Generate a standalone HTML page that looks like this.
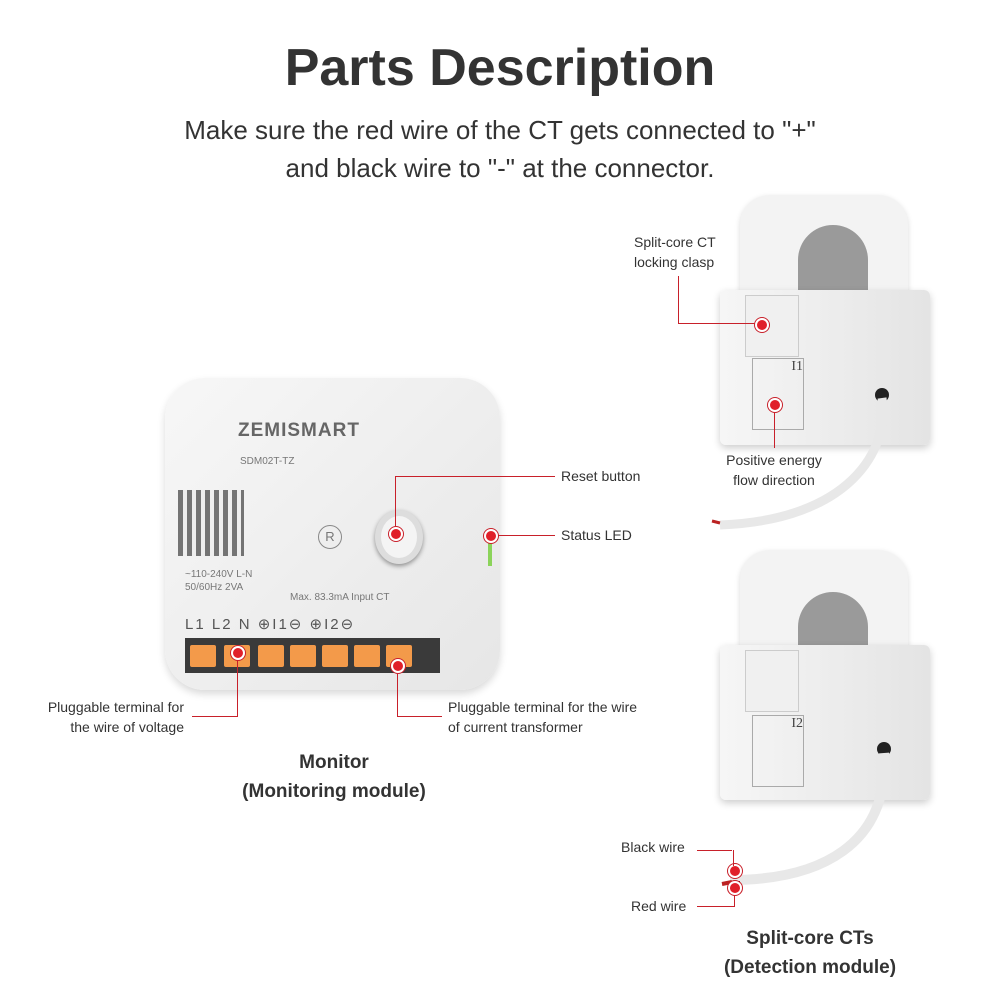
<!DOCTYPE html>
<html><head><meta charset="utf-8"><style>
body{margin:0;width:1000px;height:1000px;background:#fff;position:relative;overflow:hidden;font-family:"Liberation Sans",sans-serif;color:#333}
.a{position:absolute}
.t{font-size:14px;color:#333;line-height:20px}
.ln{position:absolute;background:#c8202a}
.dot{position:absolute;width:10px;height:10px;border-radius:50%;background:#e0202a;border:2px solid #fff;box-shadow:0 0 0 1px #c8202a}
.term{position:absolute;width:26px;height:22px;background:#f39a4a;border-radius:2px}
</style></head><body>
<div class="a" style="left:0;width:1000px;top:38px;text-align:center;font-size:52px;font-weight:bold;color:#333">Parts Description</div>
<div class="a" style="left:0;width:1000px;top:111px;text-align:center;font-size:26px;line-height:38px;color:#333">Make sure the red wire of the CT gets connected to "+"<br>and black wire to "-" at the connector.</div>

<!-- Monitor -->
<div class="a" style="left:165px;top:378px;width:335px;height:312px;background:linear-gradient(135deg,#f7f7f7,#e6e6e6);border-radius:40px;box-shadow:0 4px 8px rgba(0,0,0,.15)"></div>
<div class="a" style="left:238px;top:420px;font-size:19px;font-weight:bold;letter-spacing:1px;color:#666">ZEMISMART</div>
<div class="a" style="left:240px;top:456px;font-size:10px;color:#777">SDM02T-TZ</div>
<div class="a" style="left:178px;top:490px;width:66px;height:66px;background:repeating-linear-gradient(90deg,#555 0 5px,#eee 5px 9px),#555;opacity:.8"></div>
<div class="a" style="left:185px;top:568px;font-size:10px;color:#777;line-height:13px">~110-240V L-N<br>50/60Hz 2VA</div>
<div class="a" style="left:290px;top:592px;font-size:10px;color:#777">Max. 83.3mA Input CT</div>
<div class="a" style="left:318px;top:525px;width:22px;height:22px;border:1px solid #888;border-radius:50%;text-align:center;font-size:13px;line-height:22px;color:#777">R</div>
<div class="a" style="left:375px;top:510px;width:48px;height:54px;border-radius:50%;background:#ddd;box-shadow:0 2px 5px rgba(0,0,0,.4)"></div>
<div class="a" style="left:381px;top:516px;width:36px;height:42px;border-radius:50%;background:#f4f4f4"></div>
<div class="a" style="left:488px;top:530px;width:4px;height:36px;background:#8bd35a"></div>
<div class="a" style="left:185px;top:615px;width:250px;height:28px;font-size:15px;color:#555;letter-spacing:2px">L1 L2 N ⊕I1⊖ ⊕I2⊖</div>
<div class="a" style="left:185px;top:638px;width:255px;height:35px;background:#3a3a3a"></div>
<div class="term" style="left:190px;top:645px"></div><div class="term" style="left:224px;top:645px"></div><div class="term" style="left:258px;top:645px"></div>
<div class="term" style="left:290px;top:645px"></div><div class="term" style="left:322px;top:645px"></div><div class="term" style="left:354px;top:645px"></div><div class="term" style="left:386px;top:645px"></div>

<!-- Monitor callouts -->
<div class="ln" style="left:395px;top:476px;width:160px;height:1px"></div>
<div class="ln" style="left:395px;top:476px;width:1px;height:55px"></div>
<div class="dot" style="left:389px;top:527px"></div>
<div class="a t" style="left:561px;top:466px">Reset button</div>
<div class="ln" style="left:490px;top:535px;width:65px;height:1px"></div>
<div class="dot" style="left:484px;top:529px"></div>
<div class="a t" style="left:561px;top:525px">Status LED</div>
<div class="ln" style="left:237px;top:652px;width:1px;height:64px"></div>
<div class="ln" style="left:192px;top:716px;width:46px;height:1px"></div>
<div class="dot" style="left:231px;top:646px"></div>
<div class="a t" style="left:0;width:184px;top:697px;text-align:right">Pluggable terminal for<br>the wire of voltage</div>
<div class="ln" style="left:397px;top:665px;width:1px;height:51px"></div>
<div class="ln" style="left:397px;top:716px;width:45px;height:1px"></div>
<div class="dot" style="left:391px;top:659px"></div>
<div class="a t" style="left:448px;top:697px">Pluggable terminal for the wire<br>of current transformer</div>
<div class="a" style="left:0;width:668px;top:748px;text-align:center;font-size:19px;font-weight:bold;line-height:29px">Monitor<br>(Monitoring module)</div>

<!-- CT1 -->
<div class="a" style="left:740px;top:195px;width:168px;height:160px;background:#f3f3f3;border-radius:30px 30px 0 0;box-shadow:0 2px 6px rgba(0,0,0,.15)"></div>
<div class="a" style="left:798px;top:225px;width:70px;height:120px;background:#9a9a9a;border-radius:35px 35px 10px 10px"></div>
<div class="a" style="left:720px;top:290px;width:210px;height:155px;background:linear-gradient(90deg,#f6f6f6,#e4e4e4);border-radius:6px;box-shadow:0 3px 8px rgba(0,0,0,.2)"></div>
<div class="a" style="left:745px;top:295px;width:52px;height:60px;background:#f0f0f0;border:1px solid #ccc"></div>
<div class="a" style="left:752px;top:358px;width:50px;height:70px;border:1px solid #aaa;font-size:14px;font-family:'Liberation Serif',serif;text-align:right;color:#444">I1</div>
<div class="a" style="left:875px;top:388px;width:14px;height:14px;border-radius:50%;background:#222"></div>
<svg class="a" style="left:700px;top:390px" width="200" height="150"><path d="M182 8 C190 60 150 130 20 135" stroke="#e8e8e8" stroke-width="9" fill="none"/><path d="M20 133 l-8 -2" stroke="#b22" stroke-width="3"/></svg>
<div class="ln" style="left:678px;top:276px;width:1px;height:48px"></div>
<div class="ln" style="left:678px;top:323px;width:82px;height:1px"></div>
<div class="dot" style="left:755px;top:318px"></div>
<div class="a t" style="left:634px;top:232px">Split-core CT<br>locking clasp</div>
<div class="ln" style="left:774px;top:404px;width:1px;height:44px"></div>
<div class="dot" style="left:768px;top:398px"></div>
<div class="a t" style="left:690px;width:168px;top:450px;text-align:center">Positive energy<br>flow direction</div>

<!-- CT2 -->
<div class="a" style="left:740px;top:550px;width:168px;height:160px;background:#f3f3f3;border-radius:30px 30px 0 0;box-shadow:0 2px 6px rgba(0,0,0,.15)"></div>
<div class="a" style="left:798px;top:592px;width:70px;height:110px;background:#9a9a9a;border-radius:35px 35px 10px 10px"></div>
<div class="a" style="left:720px;top:645px;width:210px;height:155px;background:linear-gradient(90deg,#f6f6f6,#e4e4e4);border-radius:6px;box-shadow:0 3px 8px rgba(0,0,0,.2)"></div>
<div class="a" style="left:745px;top:650px;width:52px;height:60px;background:#f0f0f0;border:1px solid #ccc"></div>
<div class="a" style="left:752px;top:715px;width:50px;height:70px;border:1px solid #aaa;font-size:14px;font-family:'Liberation Serif',serif;text-align:right;color:#444">I2</div>
<div class="a" style="left:877px;top:742px;width:14px;height:14px;border-radius:50%;background:#222"></div>
<svg class="a" style="left:700px;top:745px" width="200" height="150"><path d="M184 8 C190 100 120 135 30 135" stroke="#e8e8e8" stroke-width="10" fill="none"/><path d="M30 122 l10 0 M30 138 l10 0" stroke="#222" stroke-width="4"/><path d="M22 139 l10 -2" stroke="#b22" stroke-width="4"/></svg>
<div class="ln" style="left:697px;top:850px;width:35px;height:1px"></div>
<div class="dot" style="left:728px;top:864px"></div>
<div class="ln" style="left:733px;top:850px;width:1px;height:16px"></div>
<div class="a t" style="left:621px;top:837px">Black wire</div>
<div class="ln" style="left:697px;top:906px;width:38px;height:1px"></div>
<div class="ln" style="left:734px;top:888px;width:1px;height:18px"></div>
<div class="dot" style="left:728px;top:881px"></div>
<div class="a t" style="left:631px;top:896px">Red wire</div>
<div class="a" style="left:700px;width:220px;top:924px;text-align:center;font-size:19px;font-weight:bold;line-height:29px">Split-core CTs<br>(Detection module)</div>
</body></html>
